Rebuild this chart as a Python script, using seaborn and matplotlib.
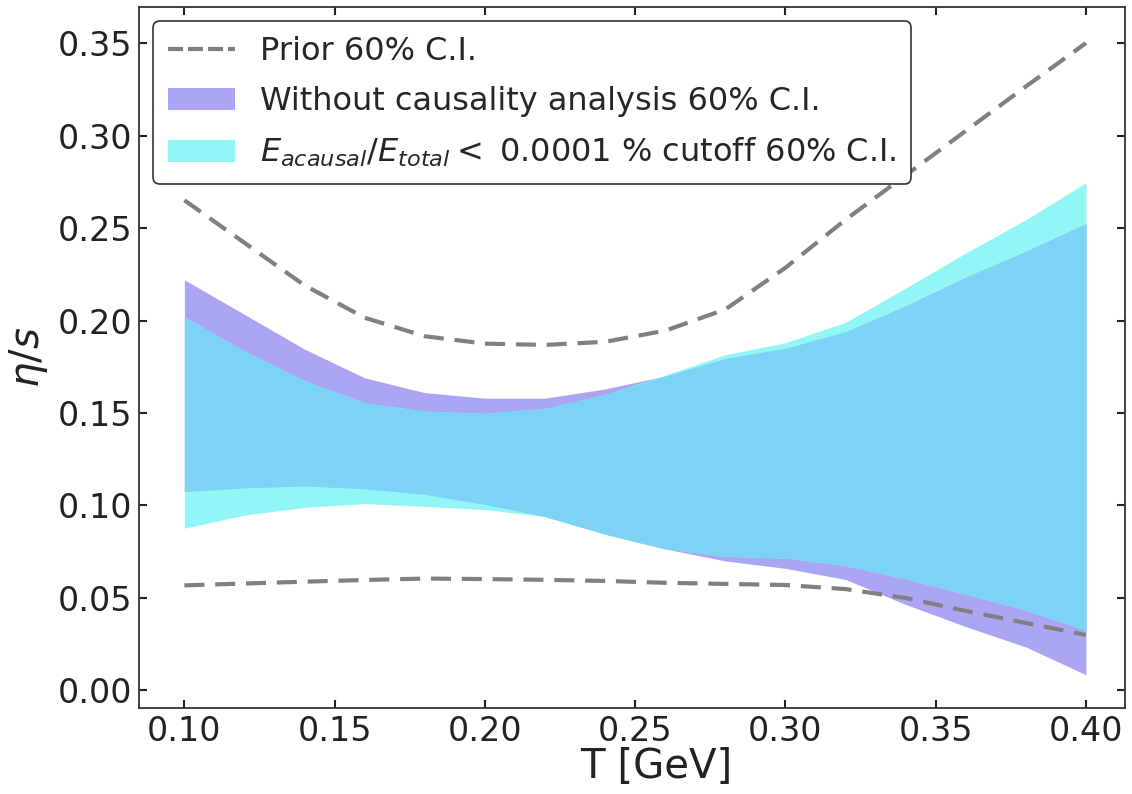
import numpy as np
import pandas as pd
import matplotlib
matplotlib.use("Agg")
import matplotlib.pyplot as plt
import seaborn as sns

# Temperature grid [GeV]
T = [0.10, 0.12, 0.14, 0.16, 0.18, 0.20, 0.22, 0.24,
     0.26, 0.28, 0.30, 0.32, 0.34, 0.36, 0.38, 0.40]

# Prior 60% credible interval
prior_hi = [0.265, 0.242, 0.219, 0.2015, 0.1915, 0.1875, 0.1868, 0.1885,
            0.1945, 0.206, 0.2285, 0.2545, 0.2785, 0.3025, 0.3265, 0.350]
prior_lo = [0.0568, 0.0578, 0.0588, 0.0597, 0.0605, 0.0602, 0.0598, 0.0592,
            0.0582, 0.0576, 0.0570, 0.0548, 0.0500, 0.0430, 0.0365, 0.0300]

# Posterior 60% C.I. without causality analysis
nocaus_hi = [0.222, 0.2033, 0.1845, 0.169, 0.161, 0.158, 0.158, 0.163,
             0.170, 0.1795, 0.185, 0.194, 0.208, 0.2235, 0.2375, 0.2525]
nocaus_lo = [0.1075, 0.1095, 0.1105, 0.109, 0.106, 0.1005, 0.094, 0.0845,
             0.0765, 0.0700, 0.066, 0.060, 0.0465, 0.0345, 0.0235, 0.0085]

# Posterior 60% C.I. with the acausal-energy cutoff
cut_hi = [0.202, 0.1835, 0.1675, 0.1555, 0.151, 0.1498, 0.1525, 0.160,
          0.1705, 0.1815, 0.188, 0.199, 0.2175, 0.2365, 0.2545, 0.2745]
cut_lo = [0.0877, 0.0948, 0.0990, 0.1010, 0.0995, 0.0978, 0.094, 0.0845,
          0.0765, 0.0725, 0.0715, 0.0675, 0.0603, 0.0520, 0.0435, 0.0325]

sns.set_style("ticks")
plt.rcParams["font.family"] = ["DejaVu Sans"]
plt.rcParams["mathtext.fontset"] = "dejavusans"

purple = "#ABA6F4"
cyan = "#93F6F6"
overlap = "#7DD3F5"
grey = "#808080"
ink = "#222222"
dash = (4.8, 2.6)

fig = plt.figure(figsize=(11.32, 7.94), dpi=100)
ax = fig.add_axes([0.1228, 0.1083, 0.871, 0.8829])

t = np.array(T)
ax.fill_between(t, nocaus_lo, nocaus_hi, color=purple, lw=0,
                label="Without causality analysis 60% C.I.")
ax.fill_between(t, cut_lo, cut_hi, color=cyan, lw=0,
                label=r"$E_{acausal}/E_{total} <$ 0.0001 % cutoff 60% C.I.")
# region where both intervals agree
ax.fill_between(t, np.maximum(nocaus_lo, cut_lo), np.minimum(nocaus_hi, cut_hi),
                color=overlap, lw=0)

prior = pd.DataFrame({"T": T, "hi": prior_hi, "lo": prior_lo})
sns.lineplot(data=prior, x="T", y="hi", ax=ax, color=grey, lw=3,
             label="Prior 60% C.I.")
sns.lineplot(data=prior, x="T", y="lo", ax=ax, color=grey, lw=3)
for ln in ax.get_lines():
    ln.set_dashes(dash)

ax.set_xlim(0.0849, 0.413)
ax.set_ylim(-0.0095, 0.3695)
ax.set_xticks([0.10, 0.15, 0.20, 0.25, 0.30, 0.35, 0.40])
ax.set_yticks([0.00, 0.05, 0.10, 0.15, 0.20, 0.25, 0.30, 0.35])
ax.xaxis.set_major_formatter(matplotlib.ticker.FormatStrFormatter("%.2f"))
ax.yaxis.set_major_formatter(matplotlib.ticker.FormatStrFormatter("%.2f"))
ax.tick_params(direction="in", top=True, right=True, length=6, width=1.5,
               labelsize=24, colors=ink, pad=5)
for sp in ax.spines.values():
    sp.set_linewidth(1.3)
    sp.set_color("#333333")
    sp.set_visible(True)

ax.set_xlabel("T [GeV]", fontsize=29, color=ink)
ax.xaxis.set_label_coords(0.525, -0.055, transform=ax.transAxes)
ax.xaxis.label.set_va("top")
ax.set_ylabel(r"$\eta/s$", fontsize=29, color=ink, labelpad=5)

handles, labels = ax.get_legend_handles_labels()
order = [labels.index("Prior 60% C.I."),
         labels.index("Without causality analysis 60% C.I."),
         [i for i, l in enumerate(labels) if l.startswith("$E")][0]]
leg = ax.legend([handles[i] for i in order], [labels[i] for i in order],
                loc="upper left", fontsize=23, frameon=True, fancybox=True,
                edgecolor="#333333", framealpha=1.0, handlelength=2.1,
                handleheight=0.7, handletextpad=0.8, labelspacing=0.6,
                borderaxespad=0.45, borderpad=0.45)
leg.get_frame().set_linewidth(1.2)
for ln in leg.get_lines():
    ln.set_dashes((3.6, 1.2))

fig.savefig("out.png", dpi=100)
